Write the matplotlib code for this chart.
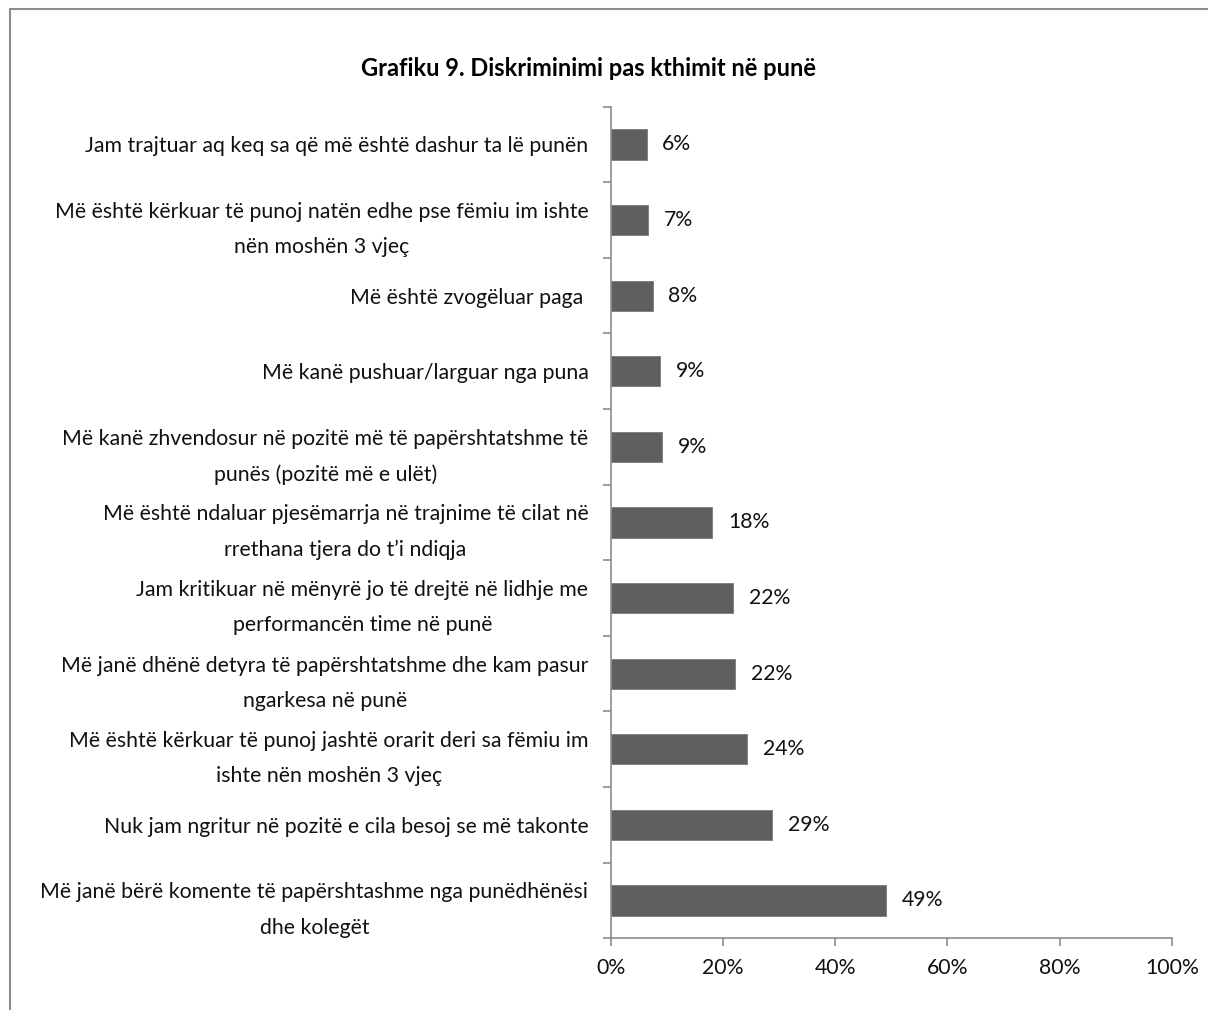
import numpy as np
import matplotlib.pyplot as plt
from matplotlib.patches import Rectangle
from matplotlib.ticker import FixedLocator, PercentFormatter

plt.rcParams['font.family'] = ['Lato', 'DejaVu Sans']

# kategorite, nga lart poshte
kategorite = [
    "Jam trajtuar aq keq sa që më është dashur ta lë punën",
    "Më është kërkuar të punoj natën edhe pse fëmiu im ishte\nnën moshën 3 vjeç",
    "Më është zvogëluar paga ",
    "Më kanë pushuar/larguar nga puna",
    "Më kanë zhvendosur në pozitë më të papërshtatshme të\npunës (pozitë më e ulët)",
    "Më është ndaluar pjesëmarrja në trajnime të cilat në\nrrethana tjera do t’i ndiqja",
    "Jam kritikuar në mënyrë jo të drejtë në lidhje me\nperformancën time në punë",
    "Më janë dhënë detyra të papërshtatshme dhe kam pasur\nngarkesa në punë",
    "Më është kërkuar të punoj jashtë orarit deri sa fëmiu im\nishte nën moshën 3 vjeç",
    "Nuk jam ngritur në pozitë e cila besoj se më takonte",
    "Më janë bërë komente të papërshtashme nga punëdhënësi\ndhe kolegët",
]
vlerat = [6.4, 6.7, 7.5, 8.8, 9.2, 18.1, 21.8, 22.2, 24.3, 28.8, 49.1]
etiketat = ['6%', '7%', '8%', '9%', '9%', '18%', '22%', '22%', '24%', '29%', '49%']
x_ticks = [0, 20, 40, 60, 80, 100]

fs = 15.3

fig = plt.figure(figsize=(12.08, 10.10), dpi=100)
ax = fig.add_axes([0.5055, 0.0710, 0.4645, 0.8234])

y = np.arange(len(kategorite))
ax.barh(y, vlerat, height=0.4, color='#5f5f5f', edgecolor='#7a7a7a', linewidth=0.6, zorder=2)

for yi, v, lab in zip(y, vlerat, etiketat):
    ax.text(v + 2.8, yi, lab, va='center', ha='left', fontsize=fs, color='#111111')

ax.set_xlim(0, 100)
ax.set_ylim(len(kategorite) - 0.5, -0.5)
ax.xaxis.set_major_locator(FixedLocator(x_ticks))
ax.xaxis.set_major_formatter(PercentFormatter(decimals=0))

# viza ne kufijte e kategorive, tekst ne qender
ax.set_yticks(np.arange(len(kategorite) + 1) - 0.5)
ax.set_yticklabels([])
ax.set_yticks(y, minor=True)
ax.set_yticklabels(kategorite, minor=True, fontsize=fs, color='#111111', ha='right',
                   multialignment='center', linespacing=1.95)
ax.tick_params(axis='y', which='minor', length=0, pad=16)
ax.tick_params(axis='y', which='major', length=6, color='#8c8c8c', width=1.2)
ax.tick_params(axis='x', length=6, color='#8c8c8c', width=1.2, labelsize=fs, labelcolor='#111111', pad=8)

for s in ['top', 'right']:
    ax.spines[s].set_visible(False)
for s in ['left', 'bottom']:
    ax.spines[s].set_color('#8c8c8c')
    ax.spines[s].set_linewidth(1.2)

fig.text(0.487, 0.932, 'Grafiku 9. Diskriminimi pas kthimit në punë',
         ha='center', va='center', fontsize=17, fontweight='bold', color='#000000')

# korniza e grafikut
fig.patches.append(Rectangle((9.5 / 1208, -0.1), 1.2, 1 - 9 / 1010 + 0.1,
                             transform=fig.transFigure, fill=False,
                             edgecolor='#8c8c8c', linewidth=1.5))

fig.savefig('out.png', dpi=100)
